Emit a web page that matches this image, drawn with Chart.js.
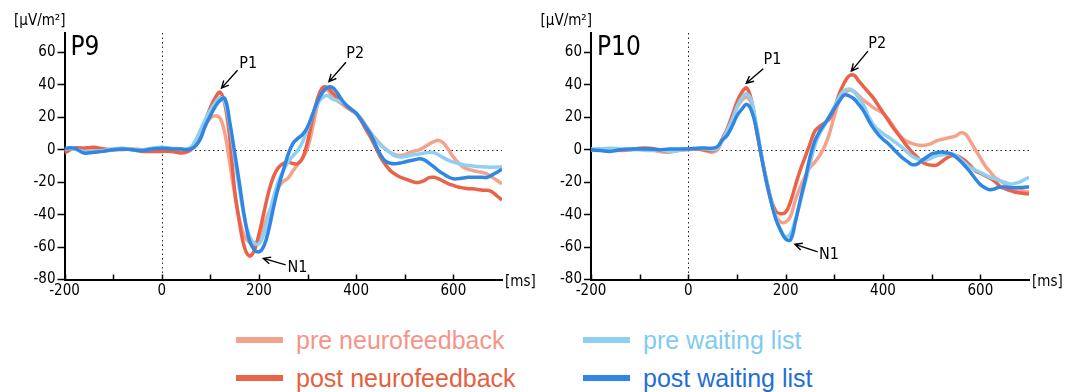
<!DOCTYPE html>
<html>
<head>
<meta charset="utf-8">
<script src="https://cdn.jsdelivr.net/npm/chart.js@4.4.0/dist/chart.umd.min.js"></script>
<style>
  body { margin:0; background:#fff; width:1075px; height:392px; overflow:hidden; position:relative; }
  #cvL { position:absolute; left:0; top:0; }
  #cvR { position:absolute; left:537px; top:0; }
  .leg { position:absolute; font-family:"Liberation Sans", Arial, sans-serif; font-size:25px; line-height:28px; white-space:nowrap; }
  .leg i { position:absolute; left:0; top:11px; width:47px; height:6px; }
  .leg span { position:absolute; left:60px; top:0; }
</style>
</head>
<body>
<canvas id="cvL" width="537" height="310"></canvas>
<canvas id="cvR" width="538" height="310"></canvas>
<div id="legend"></div>

<script>
/* ---------- data (ms / µV/m²) ---------- */
const times = [-200,-180,-160,-140,-120,-100,-80,-60,-40,-20,0,20,40,
  50,60,70,80,90,100,110,120,130,140,
  150,160,170,180,190,200,210,220,230,240,
  250,260,270,280,290,300,310,320,330,340,
  350,360,370,380,390,400,410,420,430,440,
  450,460,470,480,490,500,510,520,530,540,
  550,560,570,580,590,600,610,620,630,640,
  650,660,670,680,690,700];

// P9
const p9PreNF = [-1,1,1,1,0.5,0,0,0.5,0,0,0,0.5,-1,
  -1,0,4,9,15,19.5,21,19.5,10,-8,
  -27,-43,-53,-57,-58,-55,-47,-39,-32,-23.5,
  -19.5,-17.5,-13,-9,-5,1,13,27,36,37,
  33.5,30.5,28.4,26,24.3,22.5,19.3,15,10.5,7,
  3.5,0.5,-1.5,-3,-3.5,-3,-1.6,-0.8,0,1.5,
  3.5,5,5.8,4,0,-4.5,-8,-10.7,-12,-12.8,
  -13.5,-14,-15,-17,-19,-21];
const p9PostNF = [-2,1,1,1.5,0.5,0,0.5,0,-1,-1,-1,-1,-2,
  -1.5,0,4,10,18,26,32,35.5,28,7,
  -25,-45,-60,-65.5,-62.5,-52,-39,-26,-16.5,-11,
  -8.5,-7.5,-8.5,-8.5,-5,5,19,31,38,38.5,
  35.5,32.5,29.5,27,24.5,22.3,18,12.5,7.5,1.5,
  -4.5,-9,-12.8,-15,-16.8,-17.9,-19,-20,-20,-19,
  -17.2,-17,-18,-19.5,-21,-22,-23,-23.5,-24,-24,
  -24.5,-25,-25,-26,-28.5,-31];
const p9PreWL = [0.5,0.5,-1,-1,-0.5,0.5,1,0,0,1,1.5,1,0.5,
  0.5,1.5,6,12.5,19,24.5,29,32.3,29,15,
  -5,-25,-42,-53,-57.5,-58,-52,-41,-29.2,-19.5,
  -13,-7.5,-3.8,-0.3,5,13,21,28,32,33.5,
  31.5,30.5,29.5,27.5,25,22.4,18.5,14.5,10.3,6.3,
  3,0.5,-1.8,-3.8,-4.5,-4.2,-3.5,-3,-2.6,-2,
  -1.5,-1.8,-3.2,-5,-6.5,-7.6,-8.5,-9.2,-9.7,-10,
  -10.3,-10.5,-10.7,-10.7,-10.7,-10.5];
const p9PostWL = [1,1,-2,-1.5,-1,0,0.5,0,-0.5,0.5,1,0.5,0.5,
  0,0.5,2.5,7,15,21,26.5,30.5,31.5,17,
  -1.5,-21,-41,-55.5,-61.5,-63,-59.5,-49.5,-35.5,-23,
  -12.8,-3,4,7,9.5,14,21.5,29.5,35,38.2,
  38.6,35.5,31,27.5,25,22.5,18.5,14,9.5,3,
  -3,-7,-8.3,-8.6,-8.2,-7.5,-6.8,-6.2,-5.6,-6.2,
  -8.3,-10.5,-13,-15,-16.8,-17.9,-17.8,-17.4,-17,-17,
  -17,-17,-17,-15.5,-13.8,-12];

// P10
const p10PreNF = [0,0.5,0,-0.5,0,0.5,0,-1,-1.5,-0.5,0,0.5,-1,
  -1.5,0,6,12,19,26,30.5,32.5,28,13,
  -3.5,-19,-32,-41,-44.5,-44.6,-41,-31,-23,-16.5,
  -11,-7.6,-3.5,2,10,21,30,34.5,36.6,36,
  33.5,30.5,28.4,26,24.3,22.5,19.3,15,10.5,7,
  5,3.8,3,2.7,3,4,5.5,6.3,7,7.8,
  8.5,10.5,9.5,5,0,-5,-10,-13.5,-17,-19,
  -21,-22.5,-24,-25,-25.5,-26];
const p10PostNF = [0,0,0,0,0,1,1,0,-1,0,0.5,0.5,-0.5,
  -0.5,1,7,13,21,29.5,35.5,38,30,12,
  -3.5,-18,-30.5,-38,-39.5,-38.5,-32,-22,-12.5,-4.5,
  3.7,11.5,14.5,16.5,19,25.5,34.5,41,45.5,46,
  42.5,39,35.5,32,27.5,23,18.5,14,10,6,
  2,-1.5,-4.5,-7.5,-9,-9.5,-9.5,-7.5,-5.3,-3.8,
  -3.5,-5,-7,-10,-13,-14.5,-16,-17.5,-19.5,-22.5,
  -24,-25,-26,-26.5,-27,-27.3];
const p10PreWL = [0.5,0.5,1,0.5,0,0,-0.5,0,-1,-0.5,0.5,1,0.5,
  0,1,6,12,18.5,26.5,32,34.5,30,15,
  -3,-18,-31,-42,-49.5,-53.5,-51.5,-43,-32,-20.5,
  -8.5,2.5,10,15,20.5,26.5,32.5,36.5,37.5,36,
  32,27.5,21,15.5,12.5,10,8,5.8,3.5,1.2,
  -1.5,-4,-5.6,-6.3,-6.3,-5,-3.8,-3.2,-2.7,-2.5,
  -3.5,-6,-8.6,-11,-12.5,-14,-15.5,-17,-17.9,-19,
  -20,-21,-20.8,-20,-18.5,-17];
const p10PostWL = [0,-0.5,-1,0,0.5,0.5,0.5,0,0.5,0.5,0.5,1,1,
  1,2,6,9,14.5,21,25,28,24,12.5,
  -4,-19,-32,-43,-50,-55,-55.5,-44.5,-31,-18.5,
  -4.5,5.5,11.5,16,20.5,25.5,30,33.8,33.3,31.5,
  28,24,18.5,13.5,9.5,6.5,4,1,-2.2,-5,
  -7.2,-9.2,-8.8,-6.6,-4.5,-2.5,-1.8,-1.4,-1.8,-2.5,
  -4.5,-7.3,-10.5,-14,-18,-21.5,-23.5,-24.6,-24,-23,
  -23,-23.3,-23.4,-23.3,-23.1,-23];

const seriesNames = ['pre neurofeedback','post neurofeedback','pre waiting list','post waiting list'];
const xTicks = [-200,0,200,400,600];
const xMinorTicks = [-200,-100,0,100,200,300,400,500,600];
const yTicks = [-80,-60,-40,-20,0,20,40,60];

/* ---------- styles ---------- */
const lineColors = ['#F5A28D','#EA6248','#8FD0F1','#3087E3'];
const legendColors = ['#F5958A','#E5603F','#7FCCF2','#1F6FD4'];
const axisFont = { family:'"DejaVu Sans Condensed", "DejaVu Sans", sans-serif', size:15 };

// annotation positions in data units: label, text pos, arrow tail, arrow head
const notesP9 = [
  ['P1', [178,53], [156,49], [123,38]],
  ['P2', [398,59], [379,54], [344,42]],
  ['N1', [279,-73], [255,-71], [209,-67]]
];
const notesP10 = [
  ['P1', [173,55.5], [154,50], [119,41]],
  ['P2', [388,65.5], [369,60.8], [335,48.5]],
  ['N1', [289,-65], [266,-63], [219,-58.3]]
];

/* ---------- decorations ---------- */
const decor = {
  id: 'decor',
  beforeDatasetsDraw(chart) {
    const {ctx, chartArea: a, scales: {x, y}} = chart;
    ctx.save();
    ctx.strokeStyle = '#222';
    ctx.lineWidth = 1;
    ctx.setLineDash([1.5, 3]);
    const y0 = Math.round(y.getPixelForValue(0)) + 0.5;
    const x0 = Math.round(x.getPixelForValue(0)) + 0.5;
    ctx.beginPath();
    ctx.moveTo(a.left, y0); ctx.lineTo(a.right, y0);
    ctx.moveTo(x0, a.top); ctx.lineTo(x0, a.bottom);
    ctx.stroke();
    ctx.restore();
  },
  afterDraw(chart, args, opts) {
    const {ctx, chartArea: a, scales: {x, y}} = chart;
    ctx.save();
    // inward x tick marks
    ctx.strokeStyle = '#000';
    ctx.lineWidth = 1.5;
    ctx.beginPath();
    xMinorTicks.forEach(v => {
      const px = Math.round(x.getPixelForValue(v)) + 0.5;
      ctx.moveTo(px, a.bottom); ctx.lineTo(px, a.bottom - 5);
    });
    ctx.stroke();

    ctx.fillStyle = '#000';
    // units
    ctx.font = '15px "DejaVu Sans Condensed", "DejaVu Sans", sans-serif';
    ctx.textAlign = 'right';
    ctx.textBaseline = 'middle';
    ctx.fillText('[µV/m²]', a.left + 1, 21);
    ctx.textAlign = 'left';
    ctx.fillText('[ms]', a.right + 3, 282);

    // panel title
    ctx.font = '26px "DejaVu Sans Condensed", "DejaVu Sans", sans-serif';
    ctx.textBaseline = 'alphabetic';
    ctx.fillText(opts.title, a.left + 6, 55);

    // peak labels with arrows
    ctx.font = '16px "DejaVu Sans Condensed", "DejaVu Sans", sans-serif';
    ctx.textAlign = 'center';
    ctx.textBaseline = 'middle';
    ctx.lineWidth = 1.4;
    opts.notes.forEach(([label, tp, tail, head]) => {
      ctx.fillText(label, x.getPixelForValue(tp[0]), y.getPixelForValue(tp[1]));
      const x1 = x.getPixelForValue(tail[0]), y1 = y.getPixelForValue(tail[1]);
      const x2 = x.getPixelForValue(head[0]), y2 = y.getPixelForValue(head[1]);
      const ang = Math.atan2(y2 - y1, x2 - x1);
      ctx.beginPath();
      ctx.moveTo(x1, y1); ctx.lineTo(x2, y2);
      ctx.moveTo(x2 - 8 * Math.cos(ang - 0.45), y2 - 8 * Math.sin(ang - 0.45));
      ctx.lineTo(x2, y2);
      ctx.lineTo(x2 - 8 * Math.cos(ang + 0.45), y2 - 8 * Math.sin(ang + 0.45));
      ctx.stroke();
    });
    ctx.restore();
  }
};

function makeChart(id, title, series, notes, yWidth, padRight) {
  // draw order: first dataset ends up on top
  const order = [3, 2, 1, 0];
  return new Chart(document.getElementById(id), {
    type: 'line',
    data: {
      datasets: order.map(k => ({
        label: seriesNames[k],
        data: times.map((t, i) => ({ x: t, y: series[k][i] })),
        borderColor: lineColors[k],
        borderWidth: 3.5,
        pointRadius: 0,
        tension: 0.4,
        fill: false
      }))
    },
    options: {
      responsive: false,
      animation: false,
      layout: { padding: { top: 33, right: padRight, left: 0, bottom: 0 } },
      plugins: { legend: { display: false }, tooltip: { enabled: false }, decor: { title, notes } },
      scales: {
        x: {
          type: 'linear', min: -200, max: 700,
          afterBuildTicks: ax => { ax.ticks = xTicks.map(v => ({ value: v })); },
          afterFit: ax => { ax.height = 30.5; },
          ticks: { autoSkip: false, maxRotation: 0, padding: 3, color: '#000', font: axisFont,
                   callback: v => String(v) },
          grid: { drawOnChartArea: false, drawTicks: false },
          border: { color: '#000', width: 2 }
        },
        y: {
          min: -80, max: 72,
          afterBuildTicks: ax => { ax.ticks = yTicks.map(v => ({ value: v })); },
          afterFit: ax => { ax.width = yWidth; },
          ticks: { padding: 2, color: '#000', font: axisFont, callback: v => String(v) },
          grid: { drawOnChartArea: false, tickLength: 7, tickColor: '#000', tickWidth: 1.5 },
          border: { color: '#000', width: 2 }
        }
      }
    },
    plugins: [decor]
  });
}

makeChart('cvL', 'P9', [p9PreNF, p9PostNF, p9PreWL, p9PostWL], notesP9, 64.5, 35);
makeChart('cvR', 'P10', [p10PreNF, p10PostNF, p10PreWL, p10PostWL], notesP10, 54, 46);

/* ---------- legend ---------- */
const legPos = [[236, 326], [236, 364], [583, 326], [583, 364]];
const legendEl = document.getElementById('legend');
seriesNames.forEach((name, k) => {
  const d = document.createElement('div');
  d.className = 'leg';
  d.style.left = legPos[k][0] + 'px';
  d.style.top = legPos[k][1] + 'px';
  d.style.color = legendColors[k];
  const sw = document.createElement('i');
  sw.style.background = lineColors[k];
  const tx = document.createElement('span');
  tx.textContent = name;
  d.append(sw, tx);
  legendEl.appendChild(d);
});
</script>
</body>
</html>
